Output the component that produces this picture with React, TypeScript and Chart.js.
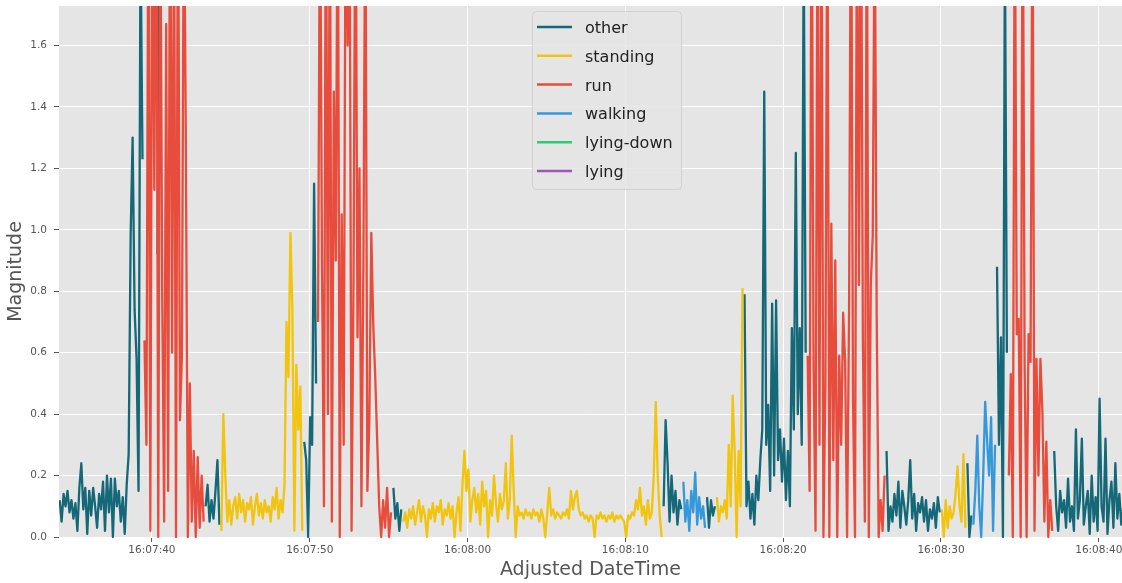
import { useEffect, useRef } from 'react';
import { Chart, registerables } from 'chart.js';

Chart.register(...registerables);

// ---- data (x = seconds after 16:07:00, sampled every STEP seconds) ----
const STEP = 0.125;

const seriesNames = ['other', 'standing', 'run', 'walking', 'lying-down', 'lying'];
const seriesColors = ['#146878', '#F1C40F', '#E74C3C', '#3498DB', '#2ECC71', '#9B59B6'];

const xTickValues = [40, 50, 60, 70, 80, 90, 100];
const xTickLabels = ['16:07:40', '16:07:50', '16:08:00', '16:08:10', '16:08:20', '16:08:30', '16:08:40'];
const yTickValues = [0, 0.2, 0.4, 0.6, 0.8, 1.0, 1.2, 1.4, 1.6];

// other
const other1Start = 34.15;
const other1 = [0.12, 0.05, 0.14, 0.10, 0.15, 0.08, 0.12, 0.06, 0.11, 0.02, 0.16, 0.24, 0.09, 0.16, 0.01, 0.15, 0.07, 0.16, 0.10, 0.03, 0.14, 0.09, 0.18, 0.02, 0.20, 0.08, 0.19, 0.00, 0.19, 0.10, 0.15, 0.05, 0.13, 0.01, 0.17, 0.27, 0.98, 1.30, 0.74, 0.58, 0.15, 1.95, 1.23];
const other2Start = 40.35;
const other2 = [0.92, 2.0];
const other3Start = 43.4;
const other3 = [0.10, 0.17, 0.05, 0.12, 0.06, 0.15, 0.25, 0.04];
const other4Start = 49.65;
const other4 = [0.31, 0.25, 0.0, 0.39, 0.30, 1.15, 0.50];
const other5Start = 55.3;
const other5 = [0.16, 0.06, 0.11, 0.02, 0.09];
const other6Start = 72.425;
const other6 = [0.10, 0.38, 0.24, 0.05, 0.20, 0.08, 0.15, 0.04, 0.12, 0.09];
const other7Start = 75.175;
const other7 = [0.13, 0.03, 0.12, 0.07, 0.10];
const other8Start = 77.55;
const other8 = [0.79, 0.10, 0.18, 0.06, 0.14, 0.04, 0.20, 0.12, 0.25, 0.35, 1.45, 0.30, 0.43, 0.15, 0.76, 0.20, 0.77, 0.25, 0.35, 0.18, 0.32, 0.12, 0.28, 0.10, 0.68, 0.35, 1.25, 0.40, 0.68, 0.30, 1.95, 0.60];
const other9Start = 86.55;
const other9 = [0.28, 0.02, 0.10, 0.05, 0.14, 0.07, 0.18, 0.03, 0.15, 0.10, 0.04, 0.12, 0.25, 0.06, 0.14, 0.02, 0.11, 0.08, 0.13, 0.05, 0.12, 0.02, 0.09, 0.06, 0.11, 0.03, 0.13, 0.08];
const other10Start = 91.675;
const other10 = [0.24, 0.00, 0.07];
const other11Start = 93.55;
const other11 = [0.88, 0.30, 0.65, 0.00, 1.95, 0.60];
const other12Start = 97.175;
const other12 = [0.28, 0.10, 0.02, 0.15, 0.08, 0.12, 0.03, 0.19, 0.05, 0.10, 0.02, 0.35, 0.06, 0.12, 0.32, 0.04, 0.10, 0.15, 0.01, 0.20, 0.05, 0.13, 0.02, 0.45, 0.10, 0.05, 0.32, 0.01, 0.12, 0.18, 0.03, 0.24, 0.06, 0.14, 0.04, 0.10];

// standing
const standing1Start = 44.4;
const standing1 = [0.02, 0.40, 0.20, 0.05, 0.12, 0.04, 0.10, 0.13, 0.06, 0.14, 0.08, 0.12, 0.05, 0.11, 0.09, 0.13, 0.04, 0.10, 0.14, 0.07, 0.11, 0.06, 0.12, 0.08, 0.10, 0.05, 0.13, 0.09, 0.16, 0.06, 0.12, 0.08, 0.17, 0.70, 0.52, 0.99, 0.74, 0.02, 0.56, 0.35, 0.49, 0.02];
const standing2Start = 55.925;
const standing2 = [
  0.05, 0.08, 0.03, 0.09, 0.06, 0.10, 0.04, 0.08,
  0.12, 0.05, 0.10, 0.07, 0.00, 0.09, 0.06, 0.11,
  0.05, 0.10, 0.08, 0.12, 0.04, 0.09, 0.07, 0.11,
  0.06, 0.10, 0.00, 0.08, 0.13, 0.02, 0.17, 0.28,
  0.15, 0.22, 0.05, 0.12, 0.16, 0.08, 0.14, 0.04,
  0.18, 0.10, 0.15, 0.00, 0.12, 0.07, 0.20, 0.11,
  0.05, 0.14, 0.09, 0.12, 0.24, 0.06, 0.12, 0.33,
  0.15, 0.00, 0.10, 0.07, 0.08, 0.06, 0.09, 0.07,
  0.08, 0.06, 0.09, 0.07, 0.08, 0.05, 0.09, 0.06,
  0.00, 0.08, 0.16, 0.07, 0.09, 0.06, 0.08, 0.07,
  0.06, 0.08, 0.07, 0.09, 0.06, 0.15, 0.09, 0.13,
  0.15, 0.09, 0.07, 0.08, 0.06, 0.07, 0.05, 0.07,
  0.06, 0.00, 0.07, 0.06, 0.08, 0.06, 0.07, 0.05,
  0.07, 0.06, 0.08, 0.05, 0.07, 0.06, 0.07, 0.06,
  0.05, 0.00, 0.07, 0.06, 0.08, 0.07, 0.12, 0.09,
  0.16, 0.07, 0.10, 0.04, 0.12, 0.06, 0.08, 0.20,
  0.44, 0.20, 0.07, 0.00,
];
const standing3Start = 75.8;
const standing3 = [0.13, 0.05, 0.10, 0.08, 0.12, 0.06, 0.30, 0.10, 0.46, 0.28, 0.00, 0.28, 0.10, 0.81];
const standing4Start = 90.05;
const standing4 = [0.09, 0.00, 0.12, 0.03, 0.10, 0.06, 0.08, 0.14, 0.23, 0.10, 0.05, 0.27, 0.03];

// run
const run1Start = 39.525;
const run1 = [0.64, 0.30, 2.2, 0.02, 2.3, 1.13, 2.4, 0.0, 2.2, 0.79, 0.05, 1.67, 0.15, 2.3, 0.60, 2.1, 0.0, 2.3, 0.38, 0.59, 2.2, 1.27, 0.0, 0.50, 0.05, 0.28, 0.0, 0.26, 0.03, 0.20, 0.05];
const run2Start = 50.525;
const run2 = [0.70, 2.2, 0.89, 0.10, 2.3, 0.40, 2.2, 0.05, 1.45, 0.90, 2.3, 0.0, 1.05, 0.30, 2.2, 1.60, 2.1, 0.02, 0.85, 2.3, 0.65, 1.20, 0.10, 0.90, 2.2, 0.15, 0.38, 0.99, 0.69, 0.52, 0.31, 0.10, 0.0, 0.12, 0.03, 0.16, 0.0, 0.08];
const run3Start = 81.55;
const run3 = [0.59, 0.15, 2.3, 0.56, 0.02, 2.2, 0.30, 2.3, 0.0, 0.50, 2.2, 0.0, 1.02, 0.25, 0.90, 0.0, 0.59, 0.30, 0.73, 0.57, 0.0, 0.74, 2.3, 0.44, 0.0, 2.2, 0.82, 2.3, 0.64, 0.05, 2.2, 0.0, 0.82, 0.98, 2.1, 0.72, 0.0, 0.12, 0.02, 0.20];
const run4Start = 94.3;
const run4 = [0.20, 0.53, 0.0, 2.2, 0.66, 0.71, 0.0, 2.3, 0.56, 0.0, 0.66, 0.57, 2.2, 0.02, 0.58, 0.20, 0.58, 0.41, 0.05, 0.31, 0.0, 0.12, 0.02];

// walking
const walking1Start = 73.675;
const walking1 = [0.18, 0.05, 0.12, 0.02, 0.15, 0.08, 0.21, 0.04, 0.13, 0.06, 0.10, 0.03];
const walking2Start = 92.05;
const walking2 = [0.04, 0.15, 0.33, 0.10, 0.00, 0.20, 0.44, 0.31, 0.20, 0.39, 0.02, 0.30];

const X_MIN = 34.11;
const X_MAX = 101.47;
const Y_MAX = 1.7285;

type Pt = { x: number; y: number | null };

function buildPoints(segs: [number, number[]][]): Pt[] {
  const pts: Pt[] = [];
  segs.forEach(([start, vals], k) => {
    if (k > 0) pts.push({ x: start - STEP / 2, y: null });
    vals.forEach((v, i) => pts.push({ x: start + i * STEP, y: v }));
  });
  return pts;
}

const seriesData: Pt[][] = [
  buildPoints([
    [other1Start, other1], [other2Start, other2], [other3Start, other3], [other4Start, other4],
    [other5Start, other5], [other6Start, other6], [other7Start, other7], [other8Start, other8],
    [other9Start, other9], [other10Start, other10], [other11Start, other11], [other12Start, other12],
  ]),
  buildPoints([[standing1Start, standing1], [standing2Start, standing2], [standing3Start, standing3], [standing4Start, standing4]]),
  buildPoints([[run1Start, run1], [run2Start, run2], [run3Start, run3], [run4Start, run4]]),
  buildPoints([[walking1Start, walking1], [walking2Start, walking2]]),
  [],
  [],
];

const FONT = 'DejaVu Sans';

const bgPlugin = {
  id: 'ggBg',
  beforeDraw(chart: any) {
    const { ctx, chartArea } = chart;
    ctx.save();
    ctx.fillStyle = '#E5E5E5';
    ctx.fillRect(chartArea.left, chartArea.top, chartArea.right - chartArea.left, chartArea.bottom - chartArea.top);
    ctx.restore();
  },
};

const legendPlugin = {
  id: 'ggLegend',
  afterDraw(chart: any) {
    const ctx = chart.ctx as CanvasRenderingContext2D;
    const x = 532.5, y = 11.5, w = 149, h = 178, r = 4;
    ctx.save();
    ctx.beginPath();
    ctx.moveTo(x + r, y);
    ctx.lineTo(x + w - r, y);
    ctx.arcTo(x + w, y, x + w, y + r, r);
    ctx.lineTo(x + w, y + h - r);
    ctx.arcTo(x + w, y + h, x + w - r, y + h, r);
    ctx.lineTo(x + r, y + h);
    ctx.arcTo(x, y + h, x, y + h - r, r);
    ctx.lineTo(x, y + r);
    ctx.arcTo(x, y, x + r, y, r);
    ctx.closePath();
    ctx.fillStyle = 'rgba(229,229,229,0.85)';
    ctx.fill();
    ctx.strokeStyle = 'rgba(204,204,204,0.8)';
    ctx.lineWidth = 1;
    ctx.stroke();
    ctx.font = `16px "${FONT}"`;
    ctx.textBaseline = 'alphabetic';
    ctx.textAlign = 'left';
    seriesNames.forEach((name, i) => {
      const ry = 27 + i * 28.8;
      ctx.beginPath();
      ctx.moveTo(537, ry);
      ctx.lineTo(572, ry);
      ctx.strokeStyle = seriesColors[i];
      ctx.lineWidth = 2.5;
      ctx.stroke();
      ctx.fillStyle = '#222222';
      ctx.fillText(name, 585, ry + 6);
    });
    ctx.restore();
  },
};

export default function App() {
  const ref = useRef<HTMLCanvasElement>(null);
  useEffect(() => {
    document.body.style.margin = '0';
    const datasets = seriesNames.map((name, i) => ({
      label: name,
      data: seriesData[i],
      borderColor: seriesColors[i],
      backgroundColor: seriesColors[i],
      borderWidth: 2.3,
      borderJoinStyle: 'round',
      borderCapStyle: 'butt',
      pointRadius: 0,
      tension: 0,
      spanGaps: false,
      fill: false,
      order: 10 - i,
      clip: { left: 0, top: 0, right: 0, bottom: 2 },
    }));
    const chart = new Chart(ref.current as HTMLCanvasElement, {
      type: 'line',
      data: { datasets } as any,
      plugins: [bgPlugin, legendPlugin],
      options: {
        animation: false,
        responsive: false,
        events: [],
        layout: { padding: { top: 6, left: 0, right: 0, bottom: 0 } },
        plugins: { legend: { display: false }, tooltip: { enabled: false }, title: { display: false } },
        scales: {
          x: {
            type: 'linear',
            min: X_MIN,
            max: X_MAX,
            afterBuildTicks: (s: any) => { s.ticks = xTickValues.map((v) => ({ value: v })); },
            afterFit: (s: any) => { s.height = 46; s.paddingLeft = 0; s.paddingRight = 0; },
            border: { display: false },
            grid: { color: '#FFFFFF', lineWidth: 1, tickColor: '#555555', tickLength: 5, drawTicks: true },
            ticks: {
              autoSkip: false,
              maxRotation: 0,
              minRotation: 0,
              padding: 2,
              color: '#555555',
              font: { family: FONT, size: 10.5 },
              callback: (v: any) => {
                const i = xTickValues.indexOf(Number(v));
                return i >= 0 ? xTickLabels[i] : '';
              },
            },
            title: {
              display: true,
              text: 'Adjusted DateTime',
              color: '#555555',
              font: { family: FONT, size: 19 },
              padding: { top: 0, bottom: 2 },
            },
          },
          y: {
            type: 'linear',
            min: 0,
            max: Y_MAX,
            afterBuildTicks: (s: any) => { s.ticks = yTickValues.map((v) => ({ value: v })); },
            afterFit: (s: any) => { s.width = 59; s.paddingTop = 0; s.paddingBottom = 0; },
            border: { display: false },
            grid: { color: '#FFFFFF', lineWidth: 1, tickColor: '#555555', tickLength: 5, drawTicks: true },
            ticks: {
              padding: 7,
              color: '#555555',
              font: { family: FONT, size: 10.5 },
              callback: (v: any) => Number(v).toFixed(1),
            },
            title: {
              display: true,
              text: 'Magnitude',
              color: '#555555',
              font: { family: FONT, size: 19 },
              padding: { top: 5, bottom: 0 },
            },
          },
        },
      } as any,
    });
    return () => chart.destroy();
  }, []);
  return (
    <div style={{ width: 1122, height: 583 }}>
      <canvas ref={ref} width={1122} height={583} style={{ display: 'block' }} />
    </div>
  );
}
